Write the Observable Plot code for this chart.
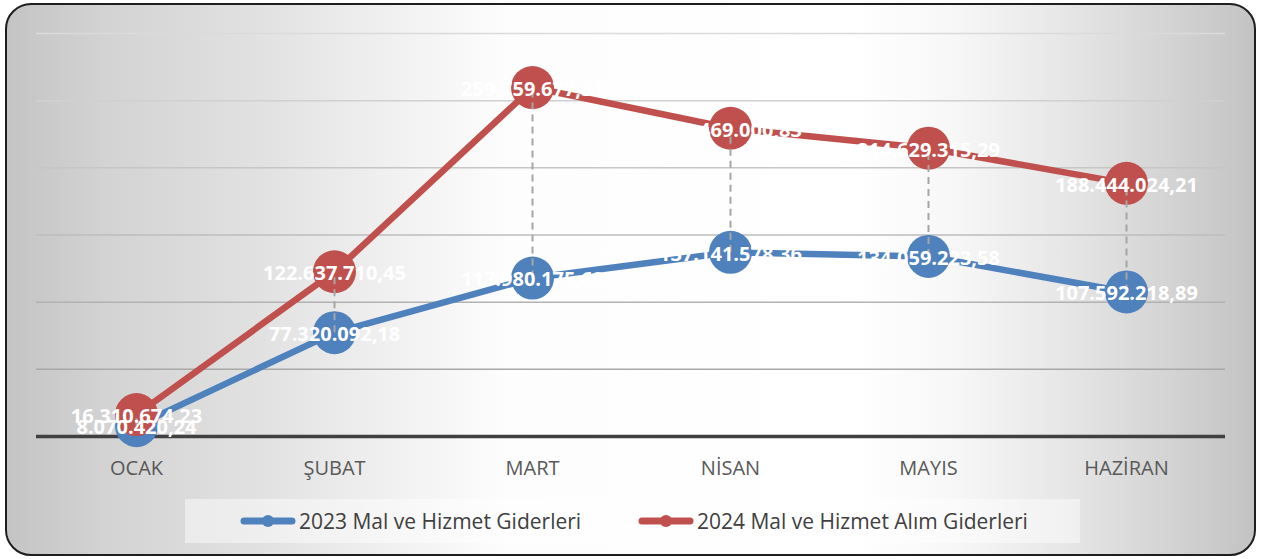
<!DOCTYPE html>
<html>
<head>
<meta charset="utf-8">
<script src="https://cdn.jsdelivr.net/npm/d3@7"></script>
<script src="https://cdn.jsdelivr.net/npm/@observablehq/plot@0.6"></script>
<style>
  html, body { margin: 0; padding: 0; background: #ffffff; }
  body { width: 1269px; height: 559px; position: relative; overflow: hidden; font-family: "Open Sans", sans-serif; }
  #frame {
    position: absolute; left: 5px; top: 3px; width: 1251px; height: 553px;
    box-sizing: border-box; border: 2.5px solid #1e1e1e; border-radius: 26px;
    background: linear-gradient(to right, #c4c4c4 0%, #d3d3d3 8%, #e1e1e1 20%, #f2f2f2 32%, #fdfdfd 40%, #ffffff 68%, #f7f7f7 76%, #e6e6e6 85%, #d4d4d4 93%, #c3c3c3 100%);
  }
  #chart { position: absolute; left: 0; top: 0; }
  #legend {
    position: absolute; left: 185px; top: 499px; width: 895px; height: 44px;
    background: rgba(255,255,255,0.45);
  }
  .item { position: absolute; top: 0; height: 44px; display: flex; align-items: center; font-size: 21px; color: #404040; white-space: nowrap; }
  .item svg { margin-right: 3px; }
</style>
</head>
<body>
<div id="frame"></div>
<div id="chart"></div>
<div id="legend"></div>
<script>
const months = ["OCAK", "ŞUBAT", "MART", "NİSAN", "MAYIS", "HAZİRAN"];
const v2023 = [8070420.24, 77320092.18, 117980175.62, 137141578.36, 134059223.58, 107592218.89];
const v2024 = [16310674.23, 122637710.45, 259759677.31, 229469000.83, 214629315.29, 188444024.21];
const seriesNames = ["2023 Mal ve Hizmet Giderleri", "2024 Mal ve Hizmet Alım Giderleri"];
const gridTicks = [50e6, 100e6, 150e6, 200e6, 250e6, 300e6];

const blue = "#4f81bd", red = "#c0504d";
const trFormat = d3.formatLocale({decimal: ",", thousands: ".", grouping: [3], currency: ["", ""]}).format(",.2f");

const rows = months.map((m, i) => ({month: m, v2023: v2023[i], v2024: v2024[i]}));
const gridColor = d3.interpolateRgb("#9e9e9e", "#dadada");

const chart = Plot.plot({
  width: 1269,
  height: 490,
  marginLeft: 36,
  marginRight: 44,
  marginTop: 33,
  marginBottom: 54,
  style: {background: "transparent", fontFamily: "Open Sans, sans-serif", color: "#595959", overflow: "visible"},
  x: {type: "point", domain: months, padding: 0.5, label: null},
  y: {domain: [0, 300e6], axis: null},
  marks: [
    Plot.ruleY(gridTicks, {y: d => d, stroke: d => gridColor(d / 300e6), strokeWidth: 1.5}),
    Plot.ruleY([0], {stroke: "#404040", strokeWidth: 3.5}),
    Plot.axisX({tickSize: 0, tickPadding: 24, fontSize: 20, label: null}),
    Plot.line(rows, {x: "month", y: "v2023", stroke: blue, strokeWidth: 6.5}),
    Plot.dot(rows, {x: "month", y: "v2023", r: 21.5, fill: blue, stroke: "none"}),
    Plot.line(rows, {x: "month", y: "v2024", stroke: red, strokeWidth: 6.5}),
    Plot.dot(rows, {x: "month", y: "v2024", r: 21.5, fill: red, stroke: "none"}),
    Plot.ruleX(rows, {x: "month", y1: "v2023", y2: "v2024", stroke: "#a6a6a6", strokeWidth: 2, strokeDasharray: "7,5"}),
    Plot.text(rows, {x: "month", y: "v2023", text: d => trFormat(d.v2023), fill: "white", fontSize: 20, fontWeight: "bold", dy: 2}),
    Plot.text(rows, {x: "month", y: "v2024", text: d => trFormat(d.v2024), fill: "white", fontSize: 20, fontWeight: "bold", dy: 2})
  ]
});
document.getElementById("chart").appendChild(chart);

const legend = document.getElementById("legend");
const legendColors = [blue, red];
const legendLeft = [55, 453];
seriesNames.forEach((name, i) => {
  const item = document.createElement("div");
  item.className = "item";
  item.style.left = legendLeft[i] + "px";
  item.innerHTML = `<svg width="56" height="16"><line x1="4" y1="8" x2="52" y2="8" stroke="${legendColors[i]}" stroke-width="7" stroke-linecap="round"/><circle cx="28" cy="8" r="6" fill="${legendColors[i]}"/></svg><span>${name}</span>`;
  legend.appendChild(item);
});
</script>
</body>
</html>
